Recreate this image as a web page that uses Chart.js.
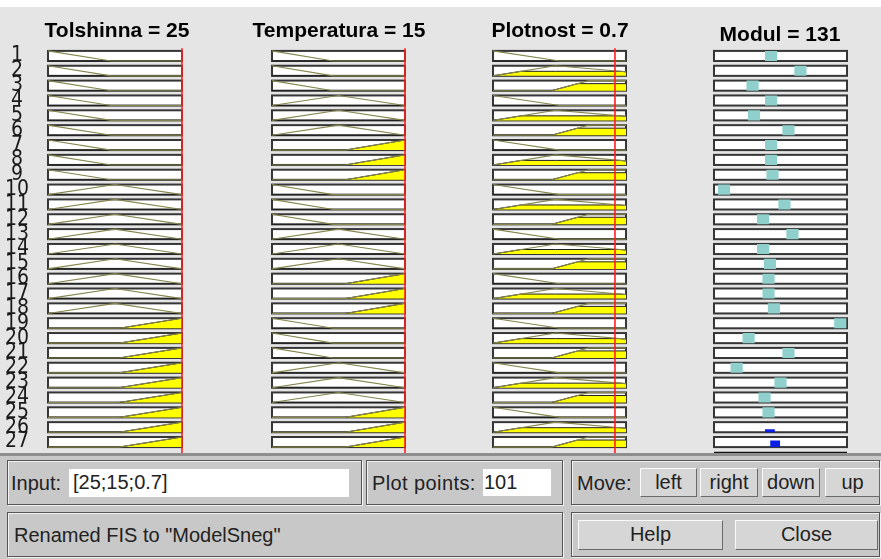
<!DOCTYPE html>
<html><head><meta charset="utf-8">
<script src="https://cdn.jsdelivr.net/npm/chart.js@4.4.1/dist/chart.umd.min.js"></script>
<style>
body{margin:0;width:881px;height:559px;overflow:hidden;background:#e5e5e5;position:relative;font-family:"Liberation Sans",Arial,sans-serif;}
#topwhite{position:absolute;left:0;top:0;width:881px;height:7px;background:#fff;}
canvas{position:absolute;top:8px;}
#panel{position:absolute;left:0;top:453px;width:881px;height:106px;background:#c8c8c8;border-top:3px solid #8e8e8e;box-sizing:border-box;}
.frame{position:absolute;border:1px solid #555;box-shadow:inset 1px 1px 0 #f2f2f2,1px 1px 0 #f2f2f2;box-sizing:border-box;}
.lbl{position:absolute;font-size:20px;color:#222;line-height:24px;white-space:nowrap;}
.edit{position:absolute;background:#fff;font-size:20px;color:#222;box-sizing:border-box;padding-left:4px;line-height:27px;white-space:nowrap;}
.btn{position:absolute;background:#d6d6d6;border:1px solid;border-color:#fafafa #6a6a6a #6a6a6a #fafafa;box-sizing:border-box;text-align:center;font-size:20px;color:#222;line-height:27px;}
</style></head>
<body>
<div id="topwhite"></div>
<canvas id="c0" width="234" height="452" style="left:0px"></canvas>
<canvas id="c1" width="190" height="452" style="left:244px"></canvas>
<canvas id="c2" width="190" height="452" style="left:465px"></canvas>
<canvas id="c3" width="190" height="452" style="left:685px"></canvas>
<div id="panel"></div>
<div class="frame" style="left:7px;top:460px;width:355px;height:45px"></div>
<div class="frame" style="left:366px;top:460px;width:197px;height:45px"></div>
<div class="frame" style="left:571px;top:460px;width:309px;height:45px"></div>
<div class="frame" style="left:7px;top:512px;width:556px;height:45px"></div>
<div class="frame" style="left:571px;top:512px;width:309px;height:45px"></div>
<div class="lbl" style="left:11px;top:471px">Input:</div>
<div class="edit" style="left:69px;top:469px;width:280px;height:28px">[25;15;0.7]</div>
<div class="lbl" style="left:372px;top:471px;letter-spacing:0.4px">Plot points:</div>
<div class="edit" style="left:483px;top:469px;width:68px;height:27px;padding-left:1px">101</div>
<div class="lbl" style="left:577px;top:471px">Move:</div>
<div class="btn" style="left:640px;top:468px;width:57px;height:29px">left</div>
<div class="btn" style="left:700px;top:468px;width:58px;height:29px">right</div>
<div class="btn" style="left:762px;top:468px;width:58px;height:29px">down</div>
<div class="btn" style="left:825px;top:468px;width:55px;height:29px">up</div>
<div class="lbl" style="left:14px;top:523px">Renamed FIS to "ModelSneg"</div>
<div class="btn" style="left:578px;top:520px;width:145px;height:30px">Help</div>
<div class="btn" style="left:735px;top:520px;width:143px;height:30px">Close</div>
<script>
// ---- data ----
const ruleNumbers = [1,2,3,4,5,6,7,8,9,10,11,12,13,14,15,16,17,18,19,20,21,22,23,24,25,26,27];
const titles = ["Tolshinna = 25", "Temperatura = 15", "Plotnost = 0.7", "Modul = 131"];
// membership function used by each rule (1 = low, 2 = medium, 3 = high)
const tolRule  = [1,1,1,1,1,1,1,1,1, 2,2,2,2,2,2,2,2,2, 3,3,3,3,3,3,3,3,3];
const tempRule = [1,1,1,2,2,2,3,3,3, 1,1,1,2,2,2,3,3,3, 1,1,1,2,2,2,3,3,3];
const plotRule = [1,2,3,1,2,3,1,2,3, 1,2,3,1,2,3,1,2,3, 1,2,3,1,2,3,1,2,3];
// membership function shapes (normalised input range 0..1)
const tolLowX  = [0, 0.47, 1],  tolLowY  = [1, 0, 0];
const tolMidX  = [0, 0.5, 1],   tolMidY  = [0, 1, 0];
const tolHighX = [0, 0.53, 1],  tolHighY = [0, 0, 1];
const tempLowX  = [0, 0.46, 1], tempLowY  = [1, 0, 0];
const tempMidX  = [0, 0.5, 1],  tempMidY  = [0, 1, 0];
const tempHighX = [0, 0.55, 1], tempHighY = [0, 0, 1];
const plotLowX  = [0, 0.5, 1],  plotLowY  = [1, 0, 0];
const plotMidX  = [0, 0.47, 1], plotMidY  = [0, 1, 0.4];
const plotHighX = [0, 0.44, 0.72, 1], plotHighY = [0, 0, 1, 1];
// degree of membership of the current input in low / medium / high
const tolMu  = [0, 0, 1];
const tempMu = [0, 0, 1];
const plotMu = [0, 0.45, 0.7];
// current input (red line), normalised
const inputPos = [1, 1, 0.917];
// output MF centre of each rule (normalised) and rule firing strength
const modulPos = [0.43,0.65,0.29,0.43,0.30,0.56,0.43,0.43,0.44,0.075,0.53,0.37,0.59,0.37,0.42,0.41,0.41,0.45,0.95,0.26,0.56,0.17,0.50,0.38,0.41,0.42,0.46];
const firing   = [0,0,0,0,0,0,0,0,0,0,0,0,0,0,0,0,0,0,0,0,0,0,0,0,0,0.3,0.65];

// ---- layout options ----
const rowH = 0.68;
const yMin = -0.869, yMax = 26.862;
const xMin = [-0.02985, -0.2105, -0.2105, -0.218];
const xMax = [1.3881, 1.2180, 1.2180, 1.2105];

function clipMF(xs, ys, mu){
  const pts = [];
  for (let k = 0; k < xs.length; k++){
    if (k > 0){
      const y0 = ys[k-1], y1 = ys[k];
      if ((y0-mu)*(y1-mu) < 0){
        const t = (mu-y0)/(y1-y0);
        pts.push({x: xs[k-1] + t*(xs[k]-xs[k-1]), y: mu});
      }
    }
    pts.push({x: xs[k], y: Math.min(ys[k], mu)});
  }
  return pts;
}
const base = i => 26 - i;
const toRow = (pts, i) => pts.map(p => ({x: p.x, y: base(i) + rowH*p.y}));

const boxPlugin = {
  id: 'boxes',
  beforeDatasetsDraw(chart){
    const {ctx, scales:{x, y}} = chart;
    ctx.save();
    ctx.fillStyle = '#ffffff';
    ctx.strokeStyle = '#363636';
    ctx.lineWidth = 2;
    ruleNumbers.forEach((r, i) => {
      const x0 = x.getPixelForValue(0), x1 = x.getPixelForValue(1);
      const yt = y.getPixelForValue(base(i) + rowH), yb = y.getPixelForValue(base(i));
      ctx.fillRect(x0, yt, x1-x0, yb-yt);
      ctx.strokeRect(x0, yt, x1-x0, yb-yt);
    });
    ctx.restore();
  }
};

function inputDatasets(rule, shapesX, shapesY, mu, pos){
  const ds = [];
  ds.push({data: [{x: pos, y: -0.6}, {x: pos, y: yMax}], borderColor: '#ff1e1e', borderWidth: 1.6, order: 1});
  rule.forEach((m, i) => {
    const xs = shapesX[m-1], ys = shapesY[m-1];
    ds.push({data: toRow(xs.map((v,k)=>({x: v, y: ys[k]})), i), borderColor: '#85854c', borderWidth: 1.1, order: 2});
    ds.push({data: toRow(clipMF(xs, ys, mu[m-1]), i), borderColor: '#1e1e1e', borderWidth: 1, backgroundColor: '#ffff00', fill: {value: base(i)}, order: 3});
  });
  return ds;
}

function outputDatasets(){
  const ds = [];
  ds.push({data: [{x: 0, y: -0.4}, {x: 1, y: -0.4}], borderColor: '#111111', borderWidth: 2.5, order: 1});
  modulPos.forEach((c, i) => {
    if (firing[i] > 0){
      const w = 0.038;
      ds.push({data: toRow([{x:c-w,y:0},{x:c-w,y:firing[i]},{x:c+w,y:firing[i]},{x:c+w,y:0}], i),
        borderColor: 'rgba(0,0,0,0)', borderWidth: 0, backgroundColor: '#0a1ee6', fill: {value: base(i)}, order: 2});
    } else {
      const w = 0.047;
      ds.push({data: toRow([{x:c-w,y:0},{x:c-w,y:1},{x:c+w,y:1},{x:c+w,y:0}], i),
        borderColor: 'rgba(0,0,0,0)', borderWidth: 0, backgroundColor: '#8fcfcc', fill: {value: base(i)}, order: 2});
    }
  });
  return ds;
}

function makeChart(col, datasets){
  const isFirst = col === 0;
  new Chart(document.getElementById('c' + col), {
    type: 'line',
    data: {datasets: datasets.map(d => Object.assign({pointRadius: 0, tension: 0, clip: false, fill: false}, d))},
    options: {
      responsive: false, animation: false, events: [],
      layout: {padding: 0},
      plugins: {
        legend: {display: false}, tooltip: {enabled: false},
        title: {display: true, text: titles[col], color: '#000',
          font: {family: '"Liberation Sans", Arial, sans-serif', size: 21, weight: 'bold'},
          padding: col === 3 ? {top: 15, bottom: 0} : {top: 11, bottom: 4}}
      },
      scales: {
        x: {type: 'linear', display: false, min: xMin[col], max: xMax[col]},
        y: {type: 'linear', display: isFirst, min: yMin, max: yMax,
          grid: {display: false}, border: {display: false},
          afterBuildTicks: s => { s.ticks = ruleNumbers.map((r, i) => ({value: base(i) + rowH/2})); },
          afterFit: s => { s.width = isFirst ? 44 : 0; s.paddingTop = 0; s.paddingBottom = 0; },
          ticks: {autoSkip: false, crossAlign: 'center', padding: 7, color: '#1a1a1a',
            font: {family: '"Liberation Sans Narrow", "DejaVu Sans Condensed", "Liberation Sans", Arial', size: 21},
            callback: (v, idx) => String(ruleNumbers[idx])}
        }
      }
    },
    plugins: [boxPlugin]
  });
}

makeChart(0, inputDatasets(tolRule, [tolLowX, tolMidX, tolHighX], [tolLowY, tolMidY, tolHighY], tolMu, inputPos[0]));
makeChart(1, inputDatasets(tempRule, [tempLowX, tempMidX, tempHighX], [tempLowY, tempMidY, tempHighY], tempMu, inputPos[1]));
makeChart(2, inputDatasets(plotRule, [plotLowX, plotMidX, plotHighX], [plotLowY, plotMidY, plotHighY], plotMu, inputPos[2]));
makeChart(3, outputDatasets());
</script>
</body></html>
